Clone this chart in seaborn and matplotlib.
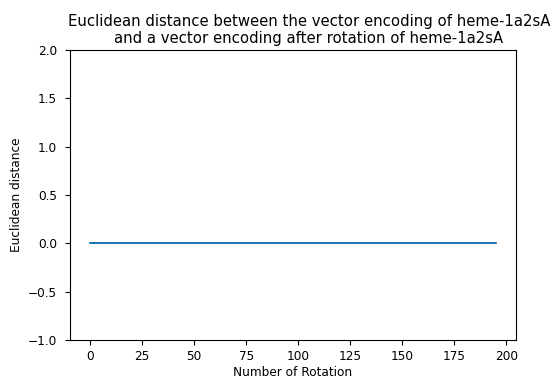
import numpy as np
import pandas as pd
import seaborn as sns
import matplotlib
matplotlib.use("Agg")
import matplotlib.pyplot as plt

rotations = list(range(196))
distances = [0.0] * 196
title = "Euclidean distance between the vector encoding of heme-1a2sA\nand a vector encoding after rotation of heme-1a2sA"
xlabel = "Number of Rotation"
ylabel = "Euclidean distance"

sns.set_style("ticks")
plt.rcParams['font.family'] = ['DejaVu Sans']
plt.rcParams['text.color'] = 'black'
plt.rcParams['axes.labelcolor'] = 'black'
plt.rcParams['xtick.color'] = 'black'
plt.rcParams['ytick.color'] = 'black'
plt.rcParams['axes.edgecolor'] = 'black'

df = pd.DataFrame({"rot": rotations, "dist": distances})

fig = plt.figure(figsize=(5.52, 3.79), dpi=100)
ax = fig.add_axes([0.1268, 0.1029, 0.808, 0.7651])
sns.lineplot(data=df, x="rot", y="dist", ax=ax, color="#1f77b4", linewidth=1.5)
ax.set_ylim(-1, 2)
ax.set_xticks([0, 25, 50, 75, 100, 125, 150, 175, 200])
ax.set_yticks([-1.0, -0.5, 0.0, 0.5, 1.0, 1.5, 2.0])
ax.tick_params(labelsize=8.7)
ax.tick_params(axis='y', pad=6)
ax.set_title(title, fontsize=10.7, pad=5, x=0.536)
ax.set_xlabel(xlabel, fontsize=8.7, labelpad=2)
ax.set_ylabel(ylabel, fontsize=8.7, labelpad=3)
fig.savefig("out.png", dpi=100)
